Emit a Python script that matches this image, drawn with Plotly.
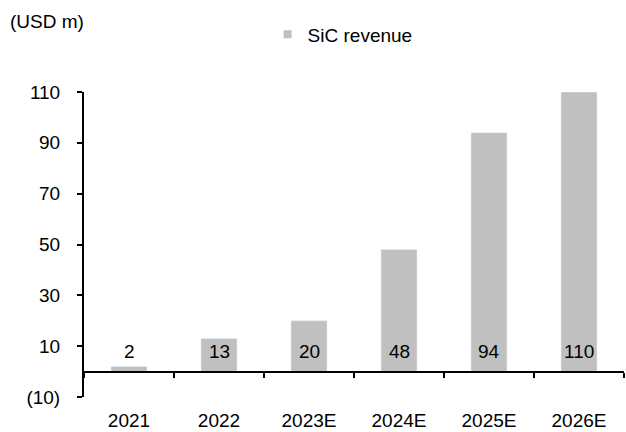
import plotly.graph_objects as go

categories = ["2021", "2022", "2023E", "2024E", "2025E", "2026E"]
sic_revenue = [2, 13, 20, 48, 94, 110]
y_tickvals = [-10, 10, 30, 50, 70, 90, 110]
y_ticktext = ["(10)", "10", "30", "50", "70", "90", "110"]
series_name = "SiC revenue"
unit_label = "(USD m)"

FONT = "Liberation Sans, Arial, sans-serif"
FS = 19
BAR = "#C0C0C0"

fig = go.Figure()
fig.add_trace(go.Bar(
    x=categories, y=sic_revenue, name=series_name, showlegend=False,
    marker=dict(color=BAR, line=dict(width=0)), width=0.4,
    xaxis="x", yaxis="y", hoverinfo="skip",
))
# invisible copy to drive the bottom label axis
fig.add_trace(go.Bar(
    x=categories, y=sic_revenue, showlegend=False,
    marker=dict(color="rgba(0,0,0,0)"), width=0.4,
    xaxis="x2", yaxis="y", hoverinfo="skip",
))
# legend entry with a small square swatch
fig.add_trace(go.Scatter(
    x=[None], y=[None], mode="markers", name=series_name,
    marker=dict(symbol="square", size=8, color=BAR), xaxis="x", yaxis="y",
))

# value labels (category axis positions given by index)
for i, v in enumerate(sic_revenue):
    fig.add_annotation(x=i, y=0, xref="x", yref="y", text=str(v),
                       showarrow=False, yanchor="bottom", yshift=8,
                       font=dict(family=FONT, size=FS, color="#000"))

fig.add_annotation(x=0, y=1, xref="paper", yref="paper", xanchor="left",
                   yanchor="middle", xshift=-76, yshift=71, text=unit_label,
                   showarrow=False, font=dict(family=FONT, size=FS, color="#000"))

ymin, ymax = -10, 110
fig.update_layout(
    width=626, height=432,
    margin=dict(l=84, r=2, t=92, b=35, autoexpand=False),
    paper_bgcolor="white", plot_bgcolor="white",
    font=dict(family=FONT, size=FS, color="#000"),
    showlegend=True,
    legend=dict(orientation="h", x=0.34, xanchor="left", y=1.189, yanchor="middle",
                font=dict(size=FS), itemwidth=30, bgcolor="rgba(0,0,0,0)"),
    xaxis=dict(
        type="category", categoryorder="array", categoryarray=categories,
        range=[-0.5, 5.5], anchor="free", position=(0 - ymin) / (ymax - ymin),
        showline=True, linecolor="#000", linewidth=2,
        ticks="outside", tickson="boundaries", ticklen=5, tickwidth=2, tickcolor="#000",
        showticklabels=False, showgrid=False, zeroline=False, fixedrange=True,
    ),
    xaxis2=dict(
        type="category", categoryorder="array", categoryarray=categories,
        range=[-0.5, 5.5], overlaying="x", anchor="y", side="bottom",
        showline=False, ticks="", showgrid=False, zeroline=False,
        ticklabelstandoff=10, tickfont=dict(size=FS),
    ),
    yaxis=dict(
        range=[ymin, ymax], tickvals=y_tickvals, ticktext=y_ticktext,
        showline=True, linecolor="#000", linewidth=2,
        ticks="outside", ticklen=5, tickwidth=2, tickcolor="#000",
        showgrid=False, zeroline=False, ticklabelstandoff=13,
        tickfont=dict(size=FS),
    ),
)

fig.write_html("out.html", config={"displayModeBar": False},
               post_script="document.body.style.margin='0';")
